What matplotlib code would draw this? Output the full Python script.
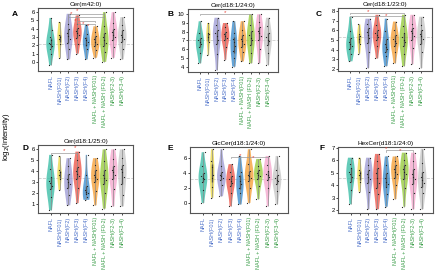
import numpy as np
import matplotlib.pyplot as plt

plt.rcParams['font.family'] = ['Liberation Sans', 'DejaVu Sans']

groups = ['NAFL', 'NASH(F01)', 'NASH(F2)', 'NASH(F3)', 'NASH(F4)',
          'NAFL + NASH(F01)', 'NAFL + NASH (F0-2)', 'NASH(F2-3)', 'NASH(F3-4)']
violin_colors = ['#3dbfa8', '#ecd94a', '#a09ed6', '#ee5a4e', '#3f8fcf',
                 '#f7a23a', '#98cc3e', '#f5a9cf', '#c9c9c9']
label_colors = ['#4a6fc8'] * 5 + ['#3a9d48'] * 4

titles = ['Cer(m42:0)', 'Cer(d18:1/24:0)', 'Cer(d18:1/23:0)',
          'Cer(d18:1/25:0)', 'GlcCer(d18:1/24:0)', 'HexCer(d18:1/24:0)']
letters = ['A', 'B', 'C', 'D', 'E', 'F']

cer_m42 = [
    [-0.4, 1.0, 1.6, 1.9, 2.1, 2.3, 2.6, 3.0, 3.8, 5.3],
    [0.5, 2.2, 2.8, 3.0, 3.3, 4.8],
    [0.3, 1.5, 2.3, 2.8, 3.1, 3.5, 4.0, 4.6, 5.8],
    [1.0, 2.2, 2.9, 3.3, 3.5, 3.7, 4.1, 4.6, 5.6],
    [0.3, 1.5, 2.0, 2.4, 2.6, 2.9, 3.4, 4.5],
    [0.5, 1.4, 1.9, 2.2, 2.4, 2.7, 3.1, 3.6, 4.3],
    [0.0, 1.2, 1.9, 2.3, 2.6, 3.0, 3.5, 4.3, 6.0],
    [0.5, 1.8, 2.6, 3.0, 3.3, 3.6, 4.0, 4.7, 6.0],
    [0.3, 1.5, 2.4, 2.8, 3.0, 3.3, 3.8, 4.4, 5.4],
]
cer_24 = [
    [4.4, 5.6, 6.2, 6.6, 6.8, 7.0, 7.3, 7.8, 9.2],
    [5.3, 6.8, 7.4, 7.7, 7.9, 9.0],
    [3.6, 5.5, 6.6, 7.1, 7.5, 7.8, 8.2, 8.8, 9.6],
    [4.8, 6.3, 7.0, 7.3, 7.5, 7.7, 8.0, 8.5, 9.0],
    [4.0, 5.0, 5.8, 6.4, 6.8, 7.2, 7.8, 9.2],
    [4.6, 5.7, 6.2, 6.6, 6.9, 7.2, 7.6, 8.2, 9.2],
    [4.4, 5.6, 6.5, 7.0, 7.3, 7.6, 8.1, 8.8, 10.0],
    [4.4, 6.0, 7.0, 7.5, 7.8, 8.1, 8.5, 9.1, 10.0],
    [4.2, 5.6, 6.5, 6.9, 7.1, 7.4, 7.9, 8.6, 9.6],
]
cer_23 = [
    [2.8, 3.6, 4.1, 4.4, 4.6, 4.8, 5.2, 5.9, 7.4],
    [3.6, 4.6, 5.1, 5.4, 5.6, 6.6],
    [2.1, 3.8, 4.7, 5.2, 5.5, 5.8, 6.2, 6.6, 7.2],
    [3.1, 4.4, 5.0, 5.3, 5.5, 5.7, 6.0, 6.5, 7.6],
    [2.3, 3.3, 3.8, 4.1, 4.3, 4.6, 5.1, 5.9, 7.2],
    [2.6, 3.8, 4.4, 4.7, 4.9, 5.1, 5.5, 6.0, 6.9],
    [2.3, 3.6, 4.4, 4.8, 5.0, 5.3, 5.7, 6.4, 7.6],
    [2.5, 4.2, 5.0, 5.4, 5.7, 5.9, 6.2, 6.7, 7.6],
    [2.1, 3.8, 4.6, 5.1, 5.4, 5.6, 6.0, 6.5, 7.4],
]
cer_25 = [
    [0.45, 1.7, 2.4, 2.7, 2.9, 3.1, 3.5, 4.2, 5.5],
    [2.3, 3.3, 3.7, 3.9, 4.1, 5.4],
    [0.9, 1.8, 2.5, 2.8, 3.0, 3.3, 3.8, 4.5, 5.2],
    [1.1, 2.5, 3.3, 3.6, 3.8, 4.0, 4.4, 5.0, 5.8],
    [1.4, 1.7, 1.9, 2.0, 2.1, 2.3, 2.7, 3.7, 5.5],
    [0.9, 2.2, 3.0, 3.3, 3.5, 3.7, 4.1, 4.6, 5.2],
    [0.6, 2.0, 2.8, 3.2, 3.4, 3.7, 4.1, 4.9, 6.0],
    [0.8, 2.4, 3.3, 3.7, 3.9, 4.1, 4.5, 5.1, 6.0],
    [0.8, 1.8, 2.8, 3.5, 3.9, 4.2, 4.6, 5.2, 6.0],
]
glccer_24 = [
    [0.0, 1.8, 2.8, 3.2, 3.4, 3.6, 4.0, 4.9, 6.8],
    [0.7, 2.2, 3.3, 3.8, 4.8, 5.6, 7.2],
    [0.9, 2.4, 3.1, 3.4, 3.6, 3.8, 4.2, 5.0, 7.2],
    [-0.45, 1.3, 2.3, 2.7, 3.0, 3.2, 3.6, 4.2, 5.2],
    [-0.2, 1.3, 2.0, 2.5, 3.0, 3.6, 4.2, 6.3],
    [0.0, 2.0, 3.0, 3.4, 3.6, 3.8, 4.3, 5.2, 7.2],
    [0.5, 2.3, 3.2, 3.6, 3.8, 4.0, 4.4, 5.0, 5.9],
    [-0.45, 2.0, 3.1, 3.5, 3.7, 3.9, 4.3, 5.1, 6.3],
    [-0.2, 1.6, 2.6, 2.9, 3.1, 3.3, 3.7, 4.4, 6.3],
]
hexcer_24 = [
    [2.5, 3.6, 4.3, 4.7, 4.9, 5.1, 5.4, 5.7, 6.2],
    [3.5, 4.3, 4.8, 5.0, 5.2, 6.2],
    [2.1, 3.5, 4.2, 4.5, 4.7, 4.9, 5.2, 5.6, 6.2],
    [2.1, 3.3, 3.8, 4.2, 4.6, 5.0, 5.4, 5.9, 6.5],
    [2.3, 3.3, 3.9, 4.1, 4.3, 4.6, 5.0, 5.6, 6.3],
    [2.9, 4.0, 4.6, 4.9, 5.1, 5.3, 5.6, 5.9, 6.3],
    [2.3, 3.8, 4.5, 4.9, 5.1, 5.3, 5.6, 6.0, 6.6],
    [2.1, 3.4, 4.1, 4.5, 4.7, 4.9, 5.3, 5.9, 6.6],
    [2.1, 3.4, 3.9, 4.2, 4.4, 4.7, 5.1, 5.8, 6.9],
]
panel_data = [cer_m42, cer_24, cer_23, cer_25, glccer_24, hexcer_24]

# overall mean line per panel
mean_levels = [2.2, 7.1, 5.3, 3.4, 3.25, 4.55]

# significance brackets: (group from, group to, y)
brackets = [
    [(2, 6, 5.75), (2, 6, 5.4), (3, 5, 4.95), (3, 5, 4.6)],
    [(0, 6, 10.0)],
    [(0, 6, 7.8), (0, 6, 7.5)],
    [(0, 3, 5.65)],
    [(3, 7, 6.1)],
    [(4, 7, 6.8)],
]
# red stars: (x group position, y)
stars = [
    [(2.3, 5.8), (3.0, 6.15), (2.7, 5.0), (3.6, 4.65), (4.2, 4.4)],
    [(3.0, 10.15)],
    [(2.0, 7.95), (4.0, 7.55)],
    [(1.5, 5.85), (2.7, 6.15)],
    [(4.0, 6.35), (5.4, 6.15)],
    [(4.0, 6.9), (5.5, 6.75)],
]

ylims = [(-1.1, 6.5), (3.4, 10.6), (1.8, 8.3), (0.2, 6.4), (-1.35, 7.5), (1.8, 7.05)]
yticks = [range(0, 7), range(4, 11), range(2, 9), range(1, 7), [0, 2, 4, 6], range(2, 8)]

W, H = 440, 273
rects_px = [(38, 8, 133, 71), (188, 9, 278, 72), (338, 8, 432, 71),
            (38, 145, 133, 213), (190, 147, 288, 213), (338, 147, 433, 213)]
letter_px = [(15, 14), (170, 14), (319, 14), (25, 149), (170, 149), (322, 148)]
widths = [0.95, 0.5, 0.95, 0.95, 0.8, 0.95, 0.95, 0.95, 0.95]

fig = plt.figure(figsize=(W / 100, H / 100), dpi=100)
pos = np.arange(len(groups))

for k in range(6):
    x0, y0, x1, y1 = rects_px[k]
    ax = fig.add_axes([x0 / W, 1 - y1 / H, (x1 - x0) / W, (y1 - y0) / H])
    data = panel_data[k]
    ax.axhline(mean_levels[k], color='#cccccc', lw=0.6, ls='--', zorder=1)
    vp = ax.violinplot(data, positions=pos, widths=widths, showextrema=False,
                       bw_method=0.75)
    for body, c in zip(vp['bodies'], violin_colors):
        body.set_facecolor(c)
        body.set_edgecolor('none')
        body.set_alpha(0.8)
        body.set_zorder(2)
    for i, vals in enumerate(data):
        vals = np.asarray(vals)
        ax.vlines(i, vals.min(), vals.max(), color='#8a8a8a', lw=0.5, zorder=3)
        q1, q3 = np.percentile(vals, [25, 75])
        ax.vlines(i, q1, q3, color='#555555', lw=1.0, zorder=3)
        off = ((np.arange(len(vals)) * 0.618) % 1 - 0.5) * widths[i] * 0.45
        ax.scatter(i + off, vals, s=0.8, color='#222222', zorder=4, lw=0)
    for g0, g1, y in brackets[k]:
        ax.plot([g0, g0, g1, g1], [y - 0.12, y, y, y - 0.12], color='#9a9a9a',
                lw=0.5, zorder=5)
    for sx, sy in stars[k]:
        ax.text(sx, sy, '*', color='#e8483c', fontsize=4.5, ha='center',
                va='center', zorder=6)
    ax.set_xlim(-1.4, 9.2)
    ax.set_ylim(*ylims[k])
    ax.set_yticks(list(yticks[k]))
    ax.set_xticks(pos)
    ax.set_xticklabels(groups, rotation=90, fontsize=3.9)
    for t, c in zip(ax.get_xticklabels(), label_colors):
        t.set_color(c)
    ax.tick_params(axis='y', labelsize=4.2, length=1.5, width=0.5, pad=1)
    ax.tick_params(axis='x', length=1.5, width=0.5, pad=1.5)
    for s in ax.spines.values():
        s.set_color('#555555')
        s.set_linewidth(0.8)
    ax.set_title(titles[k], fontsize=4.6, pad=1.2)
    lx, ly = letter_px[k]
    fig.text(lx / W, 1 - ly / H, letters[k], fontsize=6, fontweight='bold',
             ha='center', va='center')

fig.text(6 / W, 1 - 137 / H, 'log$_2$(intensity)', rotation=90, fontsize=5.5,
         ha='center', va='center')

plt.savefig('out.png', dpi=100)
